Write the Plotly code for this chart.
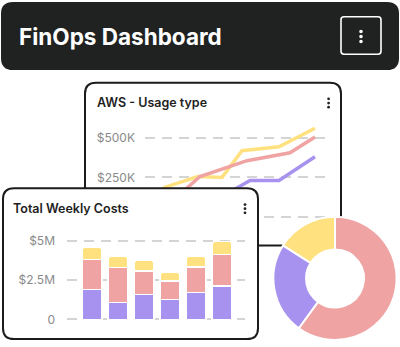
import plotly.graph_objects as go

W, H = 400, 347

# ---------------- data ----------------
# AWS - Usage type (thousand $), x = day index
yellow_day = [0, 10, 26.5, 38.5, 48.5, 67, 85]
yellow_val = [87, 188, 256, 250, 419, 444, 562]
pink_day = [0, 12.5, 27.5, 51, 72.5, 85]
pink_val = [6, 88, 256, 356, 406, 506]
purple_day = [10, 30, 44, 52.5, 67, 85]
purple_val = [19, 100, 169, 231, 231, 381]
aws_tickvals = [0, 250, 500]
aws_ticktext = ["", "$250K", "$500K"]

# Total Weekly Costs (million $)
weeks = ["W1", "W2", "W3", "W4", "W5", "W6"]
cost_purple = [1.88, 1.06, 1.56, 1.25, 1.69, 2.12]
cost_pink = [1.92, 2.24, 1.50, 1.19, 1.62, 2.00]
cost_yellow = [0.76, 0.70, 0.69, 0.56, 0.69, 0.82]
bar_tickvals = [0, 2.5, 5]
bar_ticktext = ["0", "$2.5M", "$5M"]

# Donut
donut_labels = ["Pink", "Purple", "Yellow"]
donut_values = [60, 24, 16]

YELLOW = "#FFE17F"
PINK = "#F0A3A3"
PURPLE = "#A892F0"
DARK = "#1F2221"
BORDER = "#1B1B1B"
GRID = "#D4D4D4"
TICK = "#8A8A8A"
FONT = "Inter"


def fx(px):
    return px / W


def fy(py):
    return 1 - py / H


def rrect(x0, y0, x1, y1, r, conv=None):
    if conv is None:
        cx = lambda v: v
        cy = lambda v: v
    else:
        cx, cy = conv
    pts = [
        ("M", [(x0 + r, y0)]),
        ("L", [(x1 - r, y0)]),
        ("Q", [(x1, y0), (x1, y0 + r)]),
        ("L", [(x1, y1 - r)]),
        ("Q", [(x1, y1), (x1 - r, y1)]),
        ("L", [(x0 + r, y1)]),
        ("Q", [(x0, y1), (x0, y1 - r)]),
        ("L", [(x0, y0 + r)]),
        ("Q", [(x0, y0), (x0 + r, y0)]),
    ]
    s = ""
    for cmd, ps in pts:
        s += cmd + " " + " ".join(f"{cx(a):.5f},{cy(b):.5f}" for a, b in ps) + " "
    return s + "Z"


fig = go.Figure()

# AWS lines (xy)
for d, v, c in [(yellow_day, yellow_val, YELLOW), (pink_day, pink_val, PINK),
                (purple_day, purple_val, PURPLE)]:
    fig.add_trace(go.Scatter(x=d, y=v, mode="lines", line=dict(color=c, width=3.5),
                             xaxis="x", yaxis="y", hoverinfo="skip"))

# helper pixel subplot (x2y2)
fig.add_trace(go.Scatter(x=[], y=[], xaxis="x2", yaxis="y2", hoverinfo="skip"))

# bars (x3y3)
for vals, c in [(cost_purple, PURPLE), (cost_pink, PINK), (cost_yellow, YELLOW)]:
    fig.add_trace(go.Bar(x=weeks, y=vals, marker=dict(color=c, line=dict(color="white", width=1.5)),
                         xaxis="x3", yaxis="y3", hoverinfo="skip"))

# donut
fig.add_trace(go.Pie(labels=donut_labels, values=donut_values, hole=0.47, sort=False,
                     direction="clockwise", rotation=0, textinfo="none",
                     marker=dict(colors=[PINK, PURPLE, YELLOW], line=dict(color="white", width=2)),
                     domain=dict(x=[fx(273), fx(397)], y=[fy(344), fy(219)]),
                     hoverinfo="skip"))

grid_style = dict(showgrid=True, gridcolor=GRID, gridwidth=2, griddash="10px,7px",
                  zeroline=False, showline=False, ticks="",
                  tickfont=dict(family=FONT, size=12, color=TICK))

shapes = []
# AWS card (below everything)
shapes.append(dict(type="path", xref="paper", yref="paper", layer="below",
                   path=rrect(85, 83, 341, 248, 11, (fx, fy)),
                   fillcolor="white", line=dict(color=BORDER, width=2)))
# header
px = dict(xref="x2", yref="y2", layer="below")
shapes.append(dict(type="path", path=rrect(1, 1, 399, 70, 12), fillcolor=DARK,
                   line=dict(width=0), **px))
shapes.append(dict(type="path", path=rrect(341, 16, 381, 54, 3), fillcolor=DARK,
                   line=dict(color="white", width=1.6), **px))
for cy in [31, 36, 41]:
    shapes.append(dict(type="circle", x0=359.2, x1=362.8, y0=cy - 1.8, y1=cy + 1.8,
                       fillcolor="white", line=dict(width=0), **px))
# AWS dots
for cy in [99.3, 103.5, 107.7]:
    shapes.append(dict(type="circle", x0=327.2, x1=330.0, y0=cy - 1.4, y1=cy + 1.4,
                       fillcolor="#222", line=dict(width=0), **px))
# bars card (covers the lines)
shapes.append(dict(type="path", path=rrect(3, 190, 258, 343, 11), fillcolor="white",
                   line=dict(color=BORDER, width=2), **px))
for cy in [206.5, 210.7, 214.9]:
    shapes.append(dict(type="circle", x0=243.6, x1=246.4, y0=cy - 1.4, y1=cy + 1.4,
                       fillcolor="#222", line=dict(width=0), **px))

annotations = [
    dict(text="FinOps Dashboard", x=17, y=36, xref="x2", yref="y2", xanchor="left",
         yanchor="middle", showarrow=False,
         font=dict(family=FONT, size=22.5, color="white", weight=700)),
    dict(text="AWS - Usage type", x=95, y=103, xref="x2", yref="y2", xanchor="left",
         yanchor="middle", showarrow=False,
         font=dict(family=FONT, size=12.5, color="#1E1E1E", weight=600)),
    dict(text="Total Weekly Costs", x=11, y=210.5, xref="x2", yref="y2", xanchor="left",
         yanchor="middle", showarrow=False,
         font=dict(family=FONT, size=12.5, color="#1E1E1E", weight=600)),
]

fig.update_layout(
    width=W, height=H, margin=dict(l=0, r=0, t=0, b=0),
    paper_bgcolor="white", plot_bgcolor="rgba(0,0,0,0)",
    showlegend=False, barmode="stack", bargap=0.23, barcornerradius=4,
    xaxis=dict(domain=[fx(145), fx(327)], range=[0, 91], visible=False, anchor="y"),
    yaxis=dict(domain=[fy(220.6), fy(123)], range=[-10, 600], anchor="x",
               tickvals=aws_tickvals, ticktext=aws_ticktext, ticklabelstandoff=9, **grid_style),
    xaxis2=dict(domain=[0, 1], range=[0, W], visible=False, anchor="y2"),
    yaxis2=dict(domain=[0, 1], range=[H, 0], visible=False, anchor="x2"),
    xaxis3=dict(domain=[fx(67), fx(245)], range=[-0.9615, 5.885], visible=False, anchor="y3",
                type="category"),
    yaxis3=dict(domain=[fy(326.2), fy(236.6)], range=[-0.2, 5.4], anchor="x3",
                tickvals=bar_tickvals, ticktext=bar_ticktext, ticklabelstandoff=11, **grid_style),
    shapes=shapes, annotations=annotations,
)

fig.write_html("out.html")
